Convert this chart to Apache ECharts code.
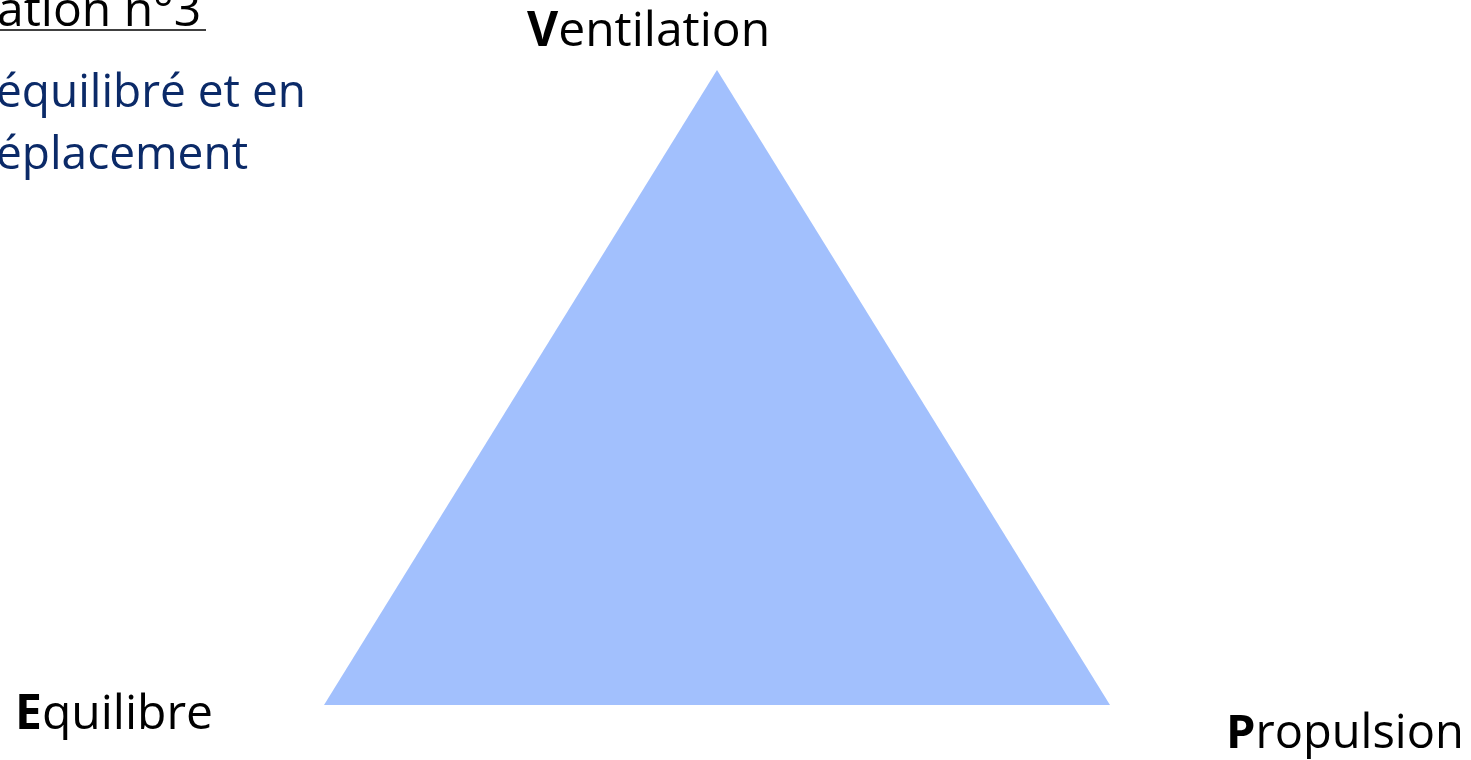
<!DOCTYPE html>
<html>
<head>
<meta charset="utf-8">
<script src="https://cdn.jsdelivr.net/npm/echarts@6/dist/echarts.min.js"></script>
<style>
  html, body { margin: 0; padding: 0; background: #fff; }
  #main { width: 1471px; height: 760px; }
</style>
</head>
<body>
<div id="main"></div>
<script>
// sommets du triangle (espace 0-100)
var vertexNames = ['Ventilation', 'Equilibre', 'Propulsion'];
var vertexX = [50, 0, 100];
var vertexY = [100, 0, 0];

var titleText = 'ation n°3';
var subLines = ['équilibré et en', 'éplacement'];

var font = '"Open Sans", "Noto Sans", sans-serif';

var myChart = echarts.init(document.getElementById('main'));

function bigLabel(name, x, y, size) {
    return {
        type: 'text',
        left: x,
        top: y,
        style: {
            text: '{b|' + name.charAt(0) + '}{n|' + name.slice(1) + '}',
            rich: {
                b: { fontFamily: font, fontSize: size, fontWeight: 'bold', fill: '#000' },
                n: { fontFamily: font, fontSize: size, fill: '#000' }
            }
        }
    };
}

var option = {
    animation: false,
    grid: { left: 324, top: 70, width: 786, height: 635 },
    xAxis: { type: 'value', min: 0, max: 100, show: false },
    yAxis: { type: 'value', min: 0, max: 100, show: false },
    series: [{
        type: 'custom',
        data: [0],
        renderItem: function (params, api) {
            var pts = [];
            for (var i = 0; i < vertexX.length; i++) {
                pts.push(api.coord([vertexX[i], vertexY[i]]));
            }
            return {
                type: 'polygon',
                shape: { points: pts },
                style: { fill: '#a2c0fd', stroke: null }
            };
        }
    }],
    graphic: [
        {
            type: 'text', left: -3, top: -12,
            style: { text: titleText, fontFamily: font, fontSize: 48, fill: '#000' }
        },
        {
            type: 'line',
            shape: { x1: 0, y1: 30, x2: 206, y2: 30 },
            style: { stroke: '#000', lineWidth: 1.5 }
        },
        {
            type: 'text', left: -4, top: 71,
            style: { text: subLines[0], fontFamily: font, fontSize: 46, fill: '#0b2a68' }
        },
        {
            type: 'text', left: -4, top: 133,
            style: { text: subLines[1], fontFamily: font, fontSize: 46, fill: '#0b2a68' }
        },
        bigLabel(vertexNames[0], 527, 8, 48),
        bigLabel(vertexNames[1], 15, 691, 48),
        bigLabel(vertexNames[2], 1226, 711, 47)
    ]
};

myChart.setOption(option);
</script>
</body>
</html>
